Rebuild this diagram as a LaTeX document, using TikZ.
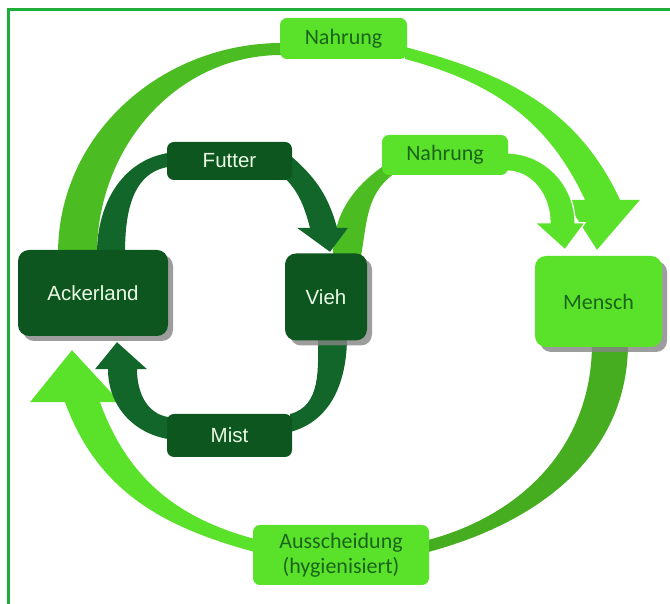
\documentclass[tikz,border=0pt]{standalone}
\usepackage{fontspec}
\usepackage{tikz}
\usetikzlibrary{shadows}
\setmainfont{Liberation Sans}
\newfontfamily\lightFont{Carlito}
\newcommand{\boxRound}[0]{11pt}
\newcommand{\labelRound}[0]{7pt}
\newcommand{\shadowGap}[0]{5pt}
\definecolor{deepgreen}{HTML}{0D561F}
\definecolor{bandgreen}{HTML}{12662A}
\definecolor{leafgreen}{HTML}{5AE22A}
\definecolor{grassgreen}{HTML}{4BBC22}
\definecolor{inkgreen}{HTML}{1A641C}
\definecolor{framegreen}{HTML}{1DAF3A}
\pgfdeclarelayer{background}
\pgfsetlayers{background,main}

\begin{document}
\begin{tikzpicture}[x=1pt, y=1pt]
  \tikzset{dark box/.style={fill=deepgreen, rounded corners=\boxRound, text=white!88!leafgreen,
      font=\fontsize{20.5}{24}\selectfont, inner sep=0pt},
    dark label/.style={dark box, rounded corners=\labelRound},
    light box/.style={fill=leafgreen, rounded corners=\labelRound, text=inkgreen,
      font=\lightFont\fontsize{22}{25}\selectfont, inner sep=0pt},
    box shadow/.style={drop shadow={shadow xshift=\shadowGap, shadow yshift=-\shadowGap,
      fill=black!48, opacity=0.8}}}
  \useasboundingbox (0,0) rectangle (670,604);
  \draw[framegreen, line width=3pt] (8.5,-20) -- (8.5,594.5) -- (700,594.5);

  \node[dark box, box shadow, minimum width=150pt, minimum height=86pt] (Acker-1) at (93,311) {Ackerland};
  \node[dark box, box shadow, minimum width=82pt, minimum height=87pt] (Vieh-1) at (326,307) {Vieh};
  \node[light box, box shadow, rounded corners=\boxRound, minimum width=127pt, minimum height=91pt] (Mensch-1) at (598.5,302.5) {Mensch};
  \node[light box, minimum width=127pt, minimum height=41pt] (Nahrung-1) at (343.5,565.5) {Nahrung};
  \node[light box, minimum width=126pt, minimum height=40pt] (Nahrung-2) at (445,449) {Nahrung};
  \node[dark label, minimum width=125pt, minimum height=38pt] (Futter-1) at (229.5,443) {Futter};
  \node[dark label, minimum width=125pt, minimum height=43pt] (Mist-1) at (229.5,168.5) {Mist};
  \node[light box, align=center, minimum width=176pt, minimum height=60pt] (Ausscheidung-1) at (341,49) {Ausscheidung\\(hygienisiert)};

  \begin{pgfonlayer}{background}
  % outer cycle
  \fill[grassgreen] ([xshift=-35pt,yshift=-4pt]Acker-1.north) to[out=90,in=180] ([xshift=2pt,yshift=-4.5pt]Nahrung-1.west)
    -- ([xshift=2pt,yshift=-16.5pt]Nahrung-1.west) to[out=180,in=90] ([xshift=4pt,yshift=-4pt]Acker-1.north) -- cycle;
  \fill[leafgreen] ([xshift=-2pt,yshift=-8.5pt]Nahrung-1.east) to[out=-15,in=115] ([xshift=21.5pt,yshift=56pt]Mensch-1.north)
    -- ([xshift=41.5pt,yshift=56pt]Mensch-1.north) -- ([xshift=-1.5pt,yshift=6pt]Mensch-1.north)
    -- ([xshift=-33.5pt,yshift=56pt]Mensch-1.north) -- ([xshift=-13.5pt,yshift=56pt]Mensch-1.north)
    to[out=115,in=-15] ([xshift=-2pt,yshift=-20.5pt]Nahrung-1.east) -- cycle;
  \fill[grassgreen!92!black] ([xshift=-6.5pt,yshift=4pt]Mensch-1.south) to[out=-90,in=15] ([xshift=-1pt,yshift=15pt]Ausscheidung-1.east)
    -- ([xshift=-1pt,yshift=3pt]Ausscheidung-1.east) to[out=15,in=-90] ([xshift=29.5pt,yshift=4pt]Mensch-1.south) -- cycle;
  \fill[leafgreen] ([xshift=2pt,yshift=16pt]Ausscheidung-1.west) to[out=165,in=-70] ([xshift=7pt,yshift=-66pt]Acker-1.south)
    -- ([xshift=27pt,yshift=-66pt]Acker-1.south) -- ([xshift=-21pt,yshift=-14pt]Acker-1.south)
    -- ([xshift=-63pt,yshift=-66pt]Acker-1.south) -- ([xshift=-28pt,yshift=-66pt]Acker-1.south)
    to[out=-70,in=165] ([xshift=2pt,yshift=3pt]Ausscheidung-1.west) -- cycle;
  % inner cycle
  \fill[grassgreen] ([xshift=7pt,yshift=-3pt]Vieh-1.north) to[out=90,in=215] ([xshift=4pt,yshift=11pt]Nahrung-2.south west)
    -- ([xshift=13pt,yshift=2pt]Nahrung-2.south west) to[out=215,in=80] ([xshift=35pt,yshift=-3pt]Vieh-1.north) -- cycle;
  \filldraw[leafgreen, draw=white, line width=1.2pt] ([xshift=-2pt,yshift=2pt]Nahrung-2.east) to[out=0,in=90] ([xshift=-23.5pt,yshift=33pt]Mensch-1.north)
    -- ([xshift=-13.5pt,yshift=33pt]Mensch-1.north) -- ([xshift=-33.5pt,yshift=6pt]Mensch-1.north)
    -- ([xshift=-63.5pt,yshift=33pt]Mensch-1.north) -- ([xshift=-48.5pt,yshift=33pt]Mensch-1.north)
    to[out=90,in=0] ([xshift=-2pt,yshift=-16pt]Nahrung-2.east) -- cycle;
  \fill[bandgreen] ([xshift=4pt,yshift=-4pt]Acker-1.north) to[out=90,in=190] ([xshift=1pt,yshift=8pt]Futter-1.west)
    -- ([xshift=1pt,yshift=-6pt]Futter-1.west) to[out=190,in=90] ([xshift=32pt,yshift=-4pt]Acker-1.north) -- cycle;
  \fill[bandgreen] ([xshift=-6pt,yshift=9pt]Futter-1.east) to[out=-40,in=105] ([xshift=11pt,yshift=25.5pt]Vieh-1.north)
    -- ([xshift=22pt,yshift=25.5pt]Vieh-1.north) -- ([xshift=4pt,yshift=1.5pt]Vieh-1.north)
    -- ([xshift=-29pt,yshift=25.5pt]Vieh-1.north) -- ([xshift=-16pt,yshift=25.5pt]Vieh-1.north)
    to[out=105,in=-40] ([xshift=-14pt,yshift=-11pt]Futter-1.east) -- cycle;
  \fill[bandgreen] ([xshift=21pt,yshift=4pt]Vieh-1.south) to[out=-90,in=15] ([xshift=-2pt,yshift=3.5pt]Mist-1.east)
    -- ([xshift=-2pt,yshift=21.5pt]Mist-1.east) to[out=15,in=-90] ([xshift=-8pt,yshift=4pt]Vieh-1.south) -- cycle;
  \fill[bandgreen] ([xshift=1pt,yshift=18.5pt]Mist-1.west) to[out=170,in=-90] ([xshift=44pt,yshift=-33pt]Acker-1.south)
    -- ([xshift=54pt,yshift=-33pt]Acker-1.south) -- ([xshift=24pt,yshift=-6pt]Acker-1.south)
    -- ([xshift=2pt,yshift=-33pt]Acker-1.south) -- ([xshift=15pt,yshift=-33pt]Acker-1.south)
    to[out=-90,in=170] ([xshift=1pt,yshift=-3.5pt]Mist-1.west) -- cycle;
  \end{pgfonlayer}
\end{tikzpicture}
\end{document}
